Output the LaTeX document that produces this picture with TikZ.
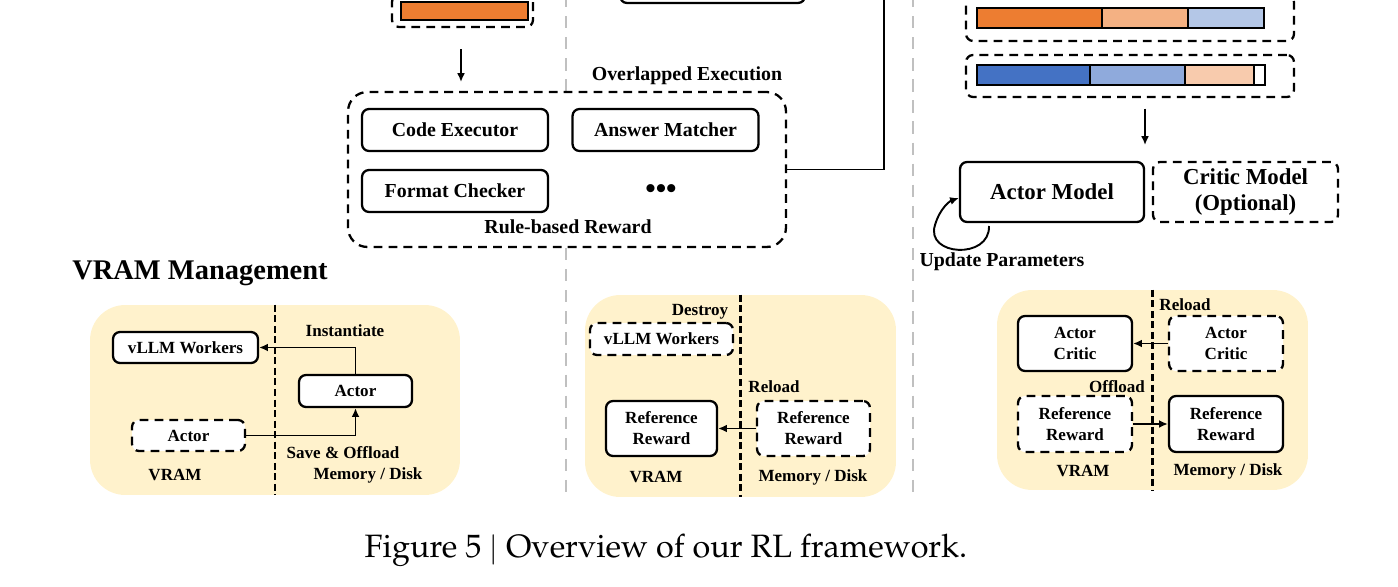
\documentclass[tikz,border=0pt]{standalone}
\usepackage[T1]{fontenc}
\usepackage{fontspec}
\newfontfamily\tnr{Liberation Serif}
\newcommand\palfont{\fontencoding{T1}\fontfamily{ppl}\fontseries{m}\fontshape{n}}
\usetikzlibrary{arrows.meta}

\definecolor{vramfill}{HTML}{FFF2CC}
\definecolor{segorange}{HTML}{ED7D31}
\definecolor{seglorange}{HTML}{F4B183}
\definecolor{segpeach}{HTML}{F8CBAD}
\definecolor{segblue}{HTML}{4472C4}
\definecolor{segmblue}{HTML}{8FAADC}
\definecolor{seglblue}{HTML}{B4C7E7}
\definecolor{sepgray}{HTML}{C0C0C0}

\begin{document}
\begin{tikzpicture}[x=0.02cm, y=-0.02cm, >={Latex[length=5pt,width=4.5pt]},
  font=\tnr\bfseries\fontsize{11.3}{13.5}\selectfont,
  box/.style={draw, line width=1.3pt, rounded corners=4pt, fill=white, align=center, inner sep=0pt},
  dbox/.style={box, dash pattern=on 5pt off 3.5pt},
  bigbox/.style={font=\tnr\bfseries\fontsize{13}{15}\selectfont},
  sm/.style={font=\tnr\bfseries\fontsize{9.7}{12}\selectfont},
  panel/.style={fill=vramfill, rounded corners=20pt, inner sep=0pt},
  vsep/.style={line width=1.2pt, dash pattern=on 4pt off 2pt},
  gsep/.style={sepgray, line width=1.5pt, dash pattern=on 7pt off 5pt},
  seg/.style={draw, line width=1.1pt},
  link/.style={->, line width=1.1pt}]
\path[use as bounding box] (0,0) rectangle (1398,587);
\clip (0,0) rectangle (1398,587);
% --- column separators ---
\draw[gsep] (566,-5) -- (566,497);
\draw[gsep] (913,-5) -- (913,497);
% --- rule-based reward (top middle) ---
\node[dbox, minimum width=2.82cm, minimum height=0.64cm] (topbuf) at (462.5,11) {};
\draw[seg, fill=segorange] (401,2) rectangle (528,20);
\node[box, minimum width=3.7cm, minimum height=0.86cm] (topmid) at (712.5,-18.5) {};
\node[dbox, rounded corners=11pt, minimum width=8.76cm, minimum height=3.1cm] (rule) at (567,169.5) {};
\node[box, minimum width=3.72cm, minimum height=0.84cm] (code) at (455,130) {Code Executor};
\node[box, minimum width=3.72cm, minimum height=0.84cm] (match) at (665.5,130) {Answer Matcher};
\node[box, minimum width=3.72cm, minimum height=0.84cm] (format) at (455,191) {Format Checker};
\node[font=\tnr\bfseries\fontsize{17}{17}\selectfont] (dots) at (661,192) {•••};
\node (overlap) at (687,76) {Overlapped Execution};
\node (rulelbl) at (568,227) {Rule-based Reward};
\draw[link, shorten <=12pt, shorten >=5.7pt] (topbuf.south -| 461,0) -- (461,92);
\coordinate (up) at (884,-10);
\draw[line width=1.1pt] (rule.east) -| (up);
% --- training (top right) ---
\node[dbox, minimum width=6.56cm, minimum height=0.92cm] (buf1) at (1130,18) {};
\foreach \a/\b/\c in {977/1102/segorange, 1102/1188/seglorange, 1188/1264/seglblue}
  \draw[seg, fill=\c] (\a,8) rectangle (\b,28);
\node[dbox, minimum width=6.56cm, minimum height=0.84cm] (buf2) at (1130,76) {};
\foreach \a/\b/\c in {977/1090/segblue, 1090/1185/segmblue, 1185/1254/segpeach, 1254/1265/white}
  \draw[seg, fill=\c] (\a,65) rectangle (\b,85);
\node[box, bigbox, minimum width=3.68cm, minimum height=1.2cm] (actor) at (1052,192) {Actor Model};
\node[dbox, bigbox, minimum width=3.7cm, minimum height=1.2cm] (critic) at (1245.5,192) {Critic Model\\(Optional)};
\coordinate (down) at (1145,145);
\draw[link, shorten <=6pt] (buf2.south -| down) -- (down);
\draw[link] (989,226) .. controls (990,260) and (925,256) .. (935,225)
  .. controls (940,208) and (950,201) .. ([yshift=-0.12cm]actor.west);
\node (update) at (1002,262) {Update Parameters};
% --- VRAM management ---
\node[font=\tnr\bfseries\fontsize{16.2}{19}\selectfont] (vramtitle) at (200,273) {VRAM Management};
% panel 1: rollout
\node[panel, minimum width=7.4cm, minimum height=3.8cm] (panelA) at (275,400) {};
\draw[vsep] (panelA.north) -- (panelA.south);
\node[box, sm, minimum width=2.9cm, minimum height=0.62cm] (vllmA) at (185.5,347.5) {vLLM Workers};
\node[box, sm, minimum width=2.26cm, minimum height=0.64cm] (actorB) at (355.5,391) {Actor};
\node[dbox, sm, minimum width=2.26cm, minimum height=0.62cm] (actorA) at (188.5,435.5) {Actor};
\draw[link] (actorB.north) |- (vllmA.east);
\draw[link] (actorA.east) -| (actorB.south);
\node[sm] at (345,331) {Instantiate};
\node[sm] at (343,453) {Save \& Offload};
\node[sm] at (175,475) {VRAM};
\node[sm] at (368,475) {Memory / Disk};
% panel 2: reward
\node[panel, minimum width=6.22cm, minimum height=4.04cm] (panelB) at (740.5,396) {};
\draw[vsep] (panelB.north) -- (panelB.south);
\node[dbox, sm, minimum width=2.86cm, minimum height=0.64cm] (vllmB) at (661.5,339) {vLLM Workers};
\node[box, sm, minimum width=2.22cm, minimum height=1.1cm] (refA) at (661.5,428.5) {Reference\\Reward};
\node[dbox, sm, minimum width=2.26cm, minimum height=1.1cm] (refB) at (813.5,428.5) {Reference\\Reward};
\draw[link] (refB.west) -- (refA.east);
\node[sm] at (700,312) {Destroy};
\node[sm] at (774,387) {Reload};
\node[sm] at (656,477) {VRAM};
\node[sm] at (813,477) {Memory / Disk};
% panel 3: training
\node[panel, minimum width=6.22cm, minimum height=4cm] (panelC) at (1152.5,390) {};
\draw[vsep] (panelC.north) -- (panelC.south);
\node[box, sm, minimum width=2.28cm, minimum height=1.1cm] (acA) at (1075,343.5) {Actor\\Critic};
\node[dbox, sm, minimum width=2.28cm, minimum height=1.1cm] (acB) at (1226,343.5) {Actor\\Critic};
\node[dbox, sm, minimum width=2.28cm, minimum height=1.12cm] (rfA) at (1075,424) {Reference\\Reward};
\node[box, sm, minimum width=2.28cm, minimum height=1.12cm] (rfB) at (1226,424) {Reference\\Reward};
\draw[link] (acB.west) -- (acA.east);
\draw[link] (rfA.east) -- (rfB.west);
\node[sm] at (1185,305) {Reload};
\node[sm] at (1117,387) {Offload};
\node[sm] at (1083,471) {VRAM};
\node[sm] at (1228,471) {Memory / Disk};
% --- caption ---
\node[font=\palfont\fontsize{18.4}{22}\selectfont] (caption) at (666,550) {Figure 5 $\vert$ Overview of our RL framework.};
\end{tikzpicture}
\end{document}
